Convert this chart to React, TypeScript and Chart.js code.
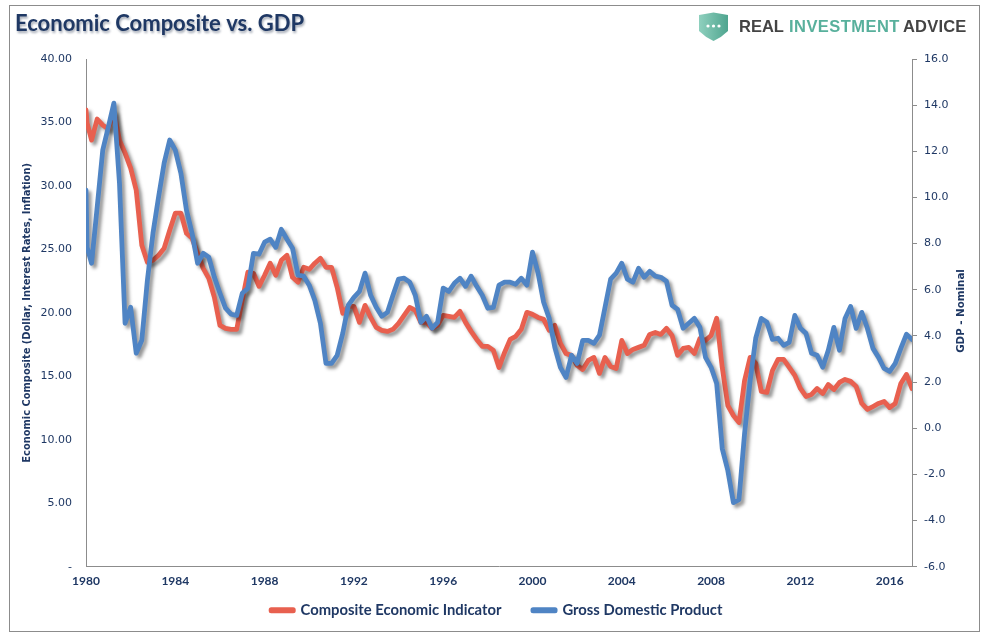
import React, { useEffect, useRef } from "react";
import { Chart, registerables } from "chart.js";

Chart.register(...registerables);

const chartTitle = "Economic Composite vs. GDP";
const leftAxisTitle = "Economic Composite (Dollar, Interest Rates, Inflation)";
const rightAxisTitle = "GDP - Nominal";
const seriesNames = ["Composite Economic Indicator", "Gross Domestic Product"];

// quarterly from 1980; the second entry is the steep first step at the axis
const years = [1980, 1980.05, ...Array.from({ length: 148 }, (_, i) => 1980 + (i + 1) * 0.25)];

const composite = [
  35.98, 34.95,
  33.61, 35.27, 34.79, 34.48, 35.82, 33.61, 32.58, 31.4, 29.66, 25.33,
  23.98, 24.14, 24.54, 25.09, 26.51, 27.85, 27.85, 26.27, 25.88, 24.69,
  23.51, 22.72, 21.22, 19.01, 18.78, 18.7, 18.7, 20.99, 23.2, 23.12,
  22.09, 22.96, 23.91, 22.96, 24.14, 24.54, 22.8, 22.41, 23.59, 23.43,
  23.91, 24.3, 23.59, 23.59, 22.01, 19.96, 20.51, 20.51, 19.25, 20.59,
  19.64, 18.86, 18.62, 18.54, 18.7, 19.17, 19.8, 20.43, 20.2, 19.25,
  19.25, 18.78, 19.01, 19.8, 19.72, 19.64, 20.12, 19.25, 18.54, 17.91,
  17.36, 17.36, 17.04, 15.7, 16.88, 17.91, 18.15, 18.7, 20.04, 19.88,
  19.64, 19.49, 18.62, 19.01, 17.59, 16.8, 16.65, 15.86, 15.54, 16.25,
  16.49, 15.23, 16.49, 15.78, 15.62, 17.83, 16.8, 17.12, 17.28, 17.44,
  18.3, 18.46, 18.3, 18.78, 18.22, 16.65, 17.2, 17.28, 16.8, 17.99,
  17.83, 18.22, 19.57, 15.7, 12.7, 11.91, 11.36, 14.67, 16.49, 16.02,
  13.81, 13.73, 15.46, 16.33, 16.33, 15.7, 15.07, 14.04, 13.41, 13.57,
  14.04, 13.65, 14.36, 13.96, 14.52, 14.75, 14.6, 14.2, 12.86, 12.39,
  12.62, 12.86, 13.02, 12.54, 12.86, 14.44, 15.15, 14.04,
];

const gdp = [
  10.32, 7.84,
  7.15, 9.58, 12.05, 13.05, 14.09, 10.62, 4.55, 5.24, 3.25, 3.81,
  6.41, 8.45, 10.01, 11.49, 12.49, 12.05, 11.05, 9.45, 8.45, 7.15,
  7.58, 7.41, 6.54, 5.85, 5.2, 4.94, 4.89, 5.85, 6.07, 7.58,
  7.54, 8.06, 8.19, 7.84, 8.62, 8.19, 7.8, 6.63, 6.59, 6.2,
  5.54, 4.55, 2.81, 2.81, 3.16, 4.11, 5.33, 5.67, 5.93, 6.72,
  5.76, 5.24, 4.85, 5.02, 5.76, 6.46, 6.5, 6.33, 5.76, 4.59,
  4.85, 4.33, 4.59, 6.07, 5.93, 6.28, 6.5, 6.15, 6.59, 6.15,
  5.76, 5.2, 5.24, 6.2, 6.33, 6.33, 6.24, 6.5, 6.2, 7.63,
  6.72, 5.46, 4.76, 3.51, 2.64, 2.2, 3.16, 2.81, 3.81, 3.81,
  3.68, 4.03, 5.24, 6.46, 6.72, 7.15, 6.46, 6.33, 6.93, 6.54,
  6.8, 6.59, 6.54, 6.37, 5.33, 5.15, 4.33, 4.55, 4.76, 4.37,
  3.07, 2.64, 1.94, -0.88, -1.83, -3.22, -3.09, -0.23, 2.07, 3.9,
  4.76, 4.59, 3.85, 3.9, 3.59, 3.72, 4.89, 4.33, 4.11, 3.25,
  3.16, 2.64, 3.38, 4.37, 3.38, 4.76, 5.28, 4.33, 5.02, 4.33,
  3.46, 3.07, 2.59, 2.46, 2.81, 3.46, 4.07, 3.85,
];

const RED = "#E8604F";
const BLUE = "#4F84C4";
const NAVY = "#1F3864";
const GRAY = "#8C8C8C";
const TEAL = "#58B09C";
const DARK = "#444444";

const decorations = {
  id: "decorations",
  afterLayout(chart: any) {
    // let the year labels hang below the thin axis box (labels are clipped to it)
    chart.scales.x.bottom = chart.scales.x.top + 26;
  },
  beforeDraw(chart: any) {
    const { ctx } = chart;
    ctx.save();
    // outer frame
    ctx.strokeStyle = GRAY;
    ctx.lineWidth = 1;
    ctx.strokeRect(9.5, 5.5, 970, 626);
    // title shadow
    ctx.font = "bold 22px Lato";
    ctx.textBaseline = "middle";
    ctx.fillStyle = "rgba(90,100,120,0.55)";
    ctx.filter = "blur(1px)";
    ctx.fillText(chartTitle, 16, 26);
    ctx.filter = "none";
    // logo shield
    const g = ctx.createLinearGradient(699, 0, 728, 0);
    g.addColorStop(0, "#8FD0BE");
    g.addColorStop(1, "#4FA58F");
    ctx.fillStyle = g;
    ctx.beginPath();
    ctx.moveTo(699, 15);
    ctx.lineTo(713.5, 12.5);
    ctx.lineTo(728, 15);
    ctx.lineTo(728, 31);
    ctx.quadraticCurveTo(722, 37, 713.5, 41);
    ctx.quadraticCurveTo(705, 37, 699, 31);
    ctx.closePath();
    ctx.fill();
    ctx.fillStyle = "#FFFFFF";
    [708, 713.5, 719].forEach((x) => {
      ctx.beginPath();
      ctx.arc(x, 26, 1.6, 0, Math.PI * 2);
      ctx.fill();
    });
    // logo words
    ctx.font = "bold 16.5px 'Liberation Sans'";
    ctx.textAlign = "left";
    ctx.fillStyle = DARK;
    ctx.fillText("REAL", 739, 27);
    ctx.fillStyle = TEAL;
    ctx.letterSpacing = "0.45px";
    ctx.fillText("INVESTMENT", 789, 27);
    ctx.fillStyle = DARK;
    ctx.letterSpacing = "0.2px";
    ctx.fillText("ADVICE", 903, 27);
    ctx.letterSpacing = "0px";
    ctx.restore();
  },
  beforeDatasetDraw(chart: any) {
    const { ctx } = chart;
    ctx.save();
    ctx.shadowColor = "rgba(0,0,0,0.42)";
    ctx.shadowBlur = 3.5;
    ctx.shadowOffsetX = 3;
    ctx.shadowOffsetY = 3;
  },
  afterDatasetDraw(chart: any) {
    chart.ctx.restore();
  },
  afterDraw(chart: any) {
    const { ctx } = chart;
    ctx.save();
    ctx.translate(961, 311);
    ctx.rotate(-Math.PI / 2);
    ctx.font = "bold 10.3px 'DejaVu Sans'";
    ctx.fillStyle = NAVY;
    ctx.textAlign = "center";
    ctx.textBaseline = "middle";
    ctx.fillText(rightAxisTitle, 0, 0);
    ctx.restore();
  },
};

export default function App() {
  const ref = useRef<HTMLCanvasElement>(null);
  useEffect(() => {
    const chart = new Chart(ref.current!, {
      type: "line",
      plugins: [decorations],
      data: {
        datasets: [
          {
            label: seriesNames[0],
            data: years.map((x, i) => ({ x, y: composite[i] })),
            borderColor: RED,
            backgroundColor: RED,
            borderWidth: 4.8,
            pointRadius: 0,
            tension: 0,
            borderJoinStyle: "round",
            borderCapStyle: "round",
            yAxisID: "y",
            order: 2,
            clip: 0,
          },
          {
            label: seriesNames[1],
            data: years.map((x, i) => ({ x, y: gdp[i] })),
            borderColor: BLUE,
            backgroundColor: BLUE,
            borderWidth: 4.8,
            pointRadius: 0,
            tension: 0,
            borderJoinStyle: "round",
            borderCapStyle: "round",
            yAxisID: "y1",
            order: 1,
            clip: 0,
          },
        ],
      } as any,
      options: {
        responsive: false,
        animation: false,
        events: [],
        layout: { padding: { left: 15, right: 7.4, top: 11, bottom: 9.4 } },
        plugins: {
          tooltip: { enabled: false },
          title: {
            display: true,
            text: chartTitle,
            align: "start",
            color: NAVY,
            font: { family: "Lato", size: 22, weight: "bold", lineHeight: 1.2 },
            padding: { top: 0, bottom: 21.6 },
          },
          legend: {
            position: "bottom",
            labels: {
              boxWidth: 22,
              boxHeight: 1,
              padding: 31.6,
              color: NAVY,
              font: { family: "Lato", size: 14.8, weight: "bold", lineHeight: 1.2 },
              generateLabels: (c: any) =>
                c.data.datasets.map((d: any, i: number) => ({
                  text: d.label,
                  fillStyle: d.borderColor,
                  strokeStyle: d.borderColor,
                  lineWidth: 5,
                  lineJoin: "round",
                  fontColor: NAVY,
                  hidden: false,
                  datasetIndex: i,
                })),
            },
          },
        },
        scales: {
          x: {
            type: "linear",
            min: 1980,
            max: 2017,
            afterFit: (s: any) => { s.height = 4.5; },
            grid: { display: false, drawTicks: false },
            border: { display: true, color: GRAY, width: 1 },
            ticks: {
              stepSize: 4,
              includeBounds: false,
              maxRotation: 0,
              padding: 7,
              color: NAVY,
              font: { family: "Lato", size: 12, weight: "bold" },
              callback: (v: any) => String(v),
            },
          },
          y: {
            position: "left",
            min: 0,
            max: 40,
            afterFit: (s: any) => { s.width = 71; },
            grid: { display: false, drawTicks: false },
            border: { display: true, color: GRAY, width: 1 },
            ticks: {
              stepSize: 5,
              padding: 14,
              color: NAVY,
              font: { family: "DejaVu Sans", size: 11 },
              callback: (v: any) => (v === 0 ? "-" : Number(v).toFixed(2)),
            },
            title: {
              display: true,
              text: leftAxisTitle,
              color: NAVY,
              font: { family: "DejaVu Sans", size: 9.9, weight: "bold" },
              padding: { top: 6, bottom: 0 },
            },
          },
          y1: {
            position: "right",
            min: -6,
            max: 16,
            afterFit: (s: any) => { s.width = 66.6; },
            grid: { display: true, drawOnChartArea: false, drawTicks: true, tickLength: 5, color: GRAY },
            border: { display: true, color: GRAY, width: 1 },
            ticks: {
              stepSize: 2,
              padding: 7,
              color: NAVY,
              font: { family: "DejaVu Sans", size: 11 },
              callback: (v: any) => Number(v).toFixed(1),
            },
          },
        },
      } as any,
    });
    return () => chart.destroy();
  }, []);
  return (
    <div style={{ position: "absolute", left: 0, top: 0, width: 986, height: 637, background: "#fff" }}>
      <canvas ref={ref} width={986} height={637} style={{ display: "block" }} />
    </div>
  );
}
